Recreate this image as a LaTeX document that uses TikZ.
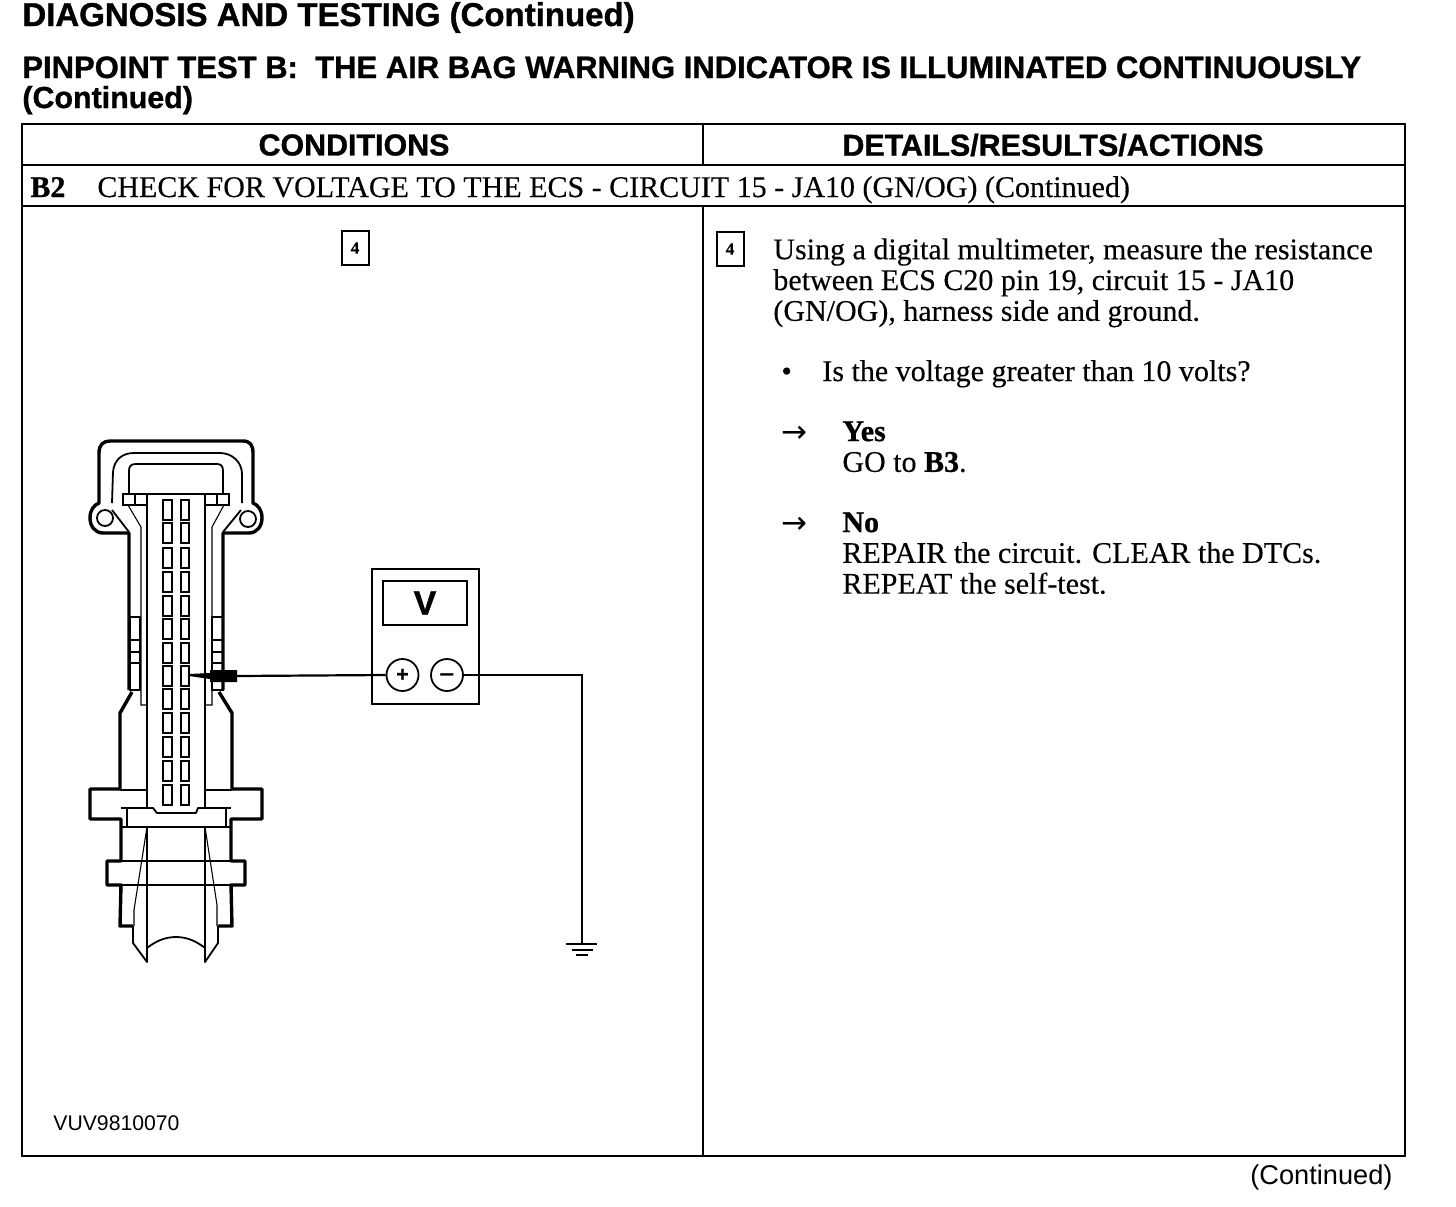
\documentclass[tikz,border=0pt]{standalone}
\usepackage{fontspec}
\setmainfont{Liberation Serif}[FakeBold=0.25,BoldFeatures={FakeBold=0.8}]
\setsansfont{Liberation Sans}[BoldFeatures={FakeBold=1.0}]
\newfontfamily\symfont{DejaVu Sans}
\usetikzlibrary{calc}
\tikzset{
  heavy/.style={line width=1.7pt,line join=round},
  medium/.style={line width=0.9pt,line join=round},
  thin line/.style={line width=0.55pt},
  frame/.style={line width=1pt},
  pin/.style={line width=0.9pt},
  wire/.style={line width=1.1pt},
  label/.style={inner sep=0pt,anchor=base west},
  body/.style={inner sep=0pt,anchor=north west,align=left,font=\fontsize{15}{15.4}\selectfont},
  title/.style={inner sep=0pt,anchor=base west,font=\sffamily\bfseries\fontsize{15.5}{15}\selectfont},
  head/.style={inner sep=0pt,font=\sffamily\bfseries\fontsize{15.2}{16}\selectfont},
  stepmark/.style={draw,line width=1pt,inner sep=0pt,minimum width=13.5pt,minimum height=17pt,font=\bfseries\fontsize{8.5}{9}\selectfont},
  jack/.style={draw,circle,line width=0.9pt,inner sep=0pt,minimum size=16pt,font=\sffamily\bfseries\fontsize{10.5}{10}\selectfont},
}
\begin{document}
\begin{tikzpicture}[x=0.5pt,y=-0.5pt]
\useasboundingbox (0,0) rectangle (1456,1206);
% titles
\node[title,font=\sffamily\bfseries\fontsize{16.5}{16}\selectfont] (t1) at (22,26) {DIAGNOSIS AND TESTING (Continued)};
\node[title] (t2) at (22,78) {PINPOINT TEST B:\ \ THE AIR BAG WARNING INDICATOR IS ILLUMINATED CONTINUOUSLY};
\node[title,font=\sffamily\bfseries\fontsize{15.2}{15}\selectfont] (t3) at (22,108) {(Continued)};
% table
\draw[frame] (22,124) rectangle (1405,1156);
\draw[frame] (22,165) -- (1405,165);
\draw[frame] (22,206) -- (1405,206);
\draw[frame] (703,124) -- (703,165);
\draw[frame] (703,206) -- (703,1156);
\node[head] (hc) at (354,145) {CONDITIONS};
\node[head] (hd) at (1053,145) {DETAILS/RESULTS/ACTIONS};
\node[label,font=\bfseries\fontsize{15}{15}\selectfont] (b2) at (30,197) {B2};
\node[label,font=\fontsize{15}{15}\selectfont] (b2t) at (97,197) {CHECK FOR VOLTAGE TO THE ECS - CIRCUIT 15 - JA10 (GN/OG) (Continued)};
\node[stepmark] (s4a) at (355,248) {4};
\node[stepmark] (s4b) at (730,249) {4};
% right column
\node[body] (p1) at (773,238) {Using a digital multimeter, measure the resistance\\between ECS C20 pin 19, circuit 15 - JA10\\(GN/OG), harness side and ground.};
\node[label,font=\fontsize{15}{15}\selectfont] (bul) at (781,381) {•};
\node[label,font=\fontsize{15}{15}\selectfont] (p2) at (822,381) {Is the voltage greater than 10 volts?};
\node[label,font=\symfont\fontsize{15.5}{15}\selectfont] (a1) at (781,442) {→};
\node[body] (p3) at (842,421) {\textbf{Yes}\\GO to \textbf{B3}.};
\node[label,font=\symfont\fontsize{15.5}{15}\selectfont] (a2) at (781,533) {→};
\node[body] (p4) at (842,512) {\textbf{No}\\REPAIR the circuit. CLEAR the DTCs.\\REPEAT the self-test.};
% footers
\node[label,font=\sffamily\fontsize{10.6}{11}\selectfont] (code) at (53,1130) {VUV9810070};
\node[label,font=\sffamily\fontsize{13.6}{14}\selectfont] (cont) at (1250,1184) {(Continued)};
% connector outline
\draw[heavy] (129,690) -- (129,533) -- (103,533) .. controls (95,533) and (90,526) .. (90,518) .. controls (90,510) and (94,505) .. (99,503)
  -- (99,453) .. controls (99,445) and (103,441) .. (110,441) -- (243,441) .. controls (250,441) and (253,445) .. (253,453) -- (253,503)
  .. controls (258,505) and (262,510) .. (262,518) .. controls (262,526) and (257,533) .. (249,533) -- (223,533) -- (223,690);
\draw[medium] (112,503) -- (113,472) .. controls (114,460) and (122,453) .. (134,453) -- (220,453) .. controls (232,453) and (242,462) .. (242,474) -- (242,503);
\draw[medium] (129,494) -- (129,471) .. controls (129,466) and (131,464) .. (136,464) -- (217,464) .. controls (221,464) and (223,466) .. (223,471) -- (223,494);
\draw[medium] (112,510) -- (129,532);
\draw[medium] (241,510) -- (223,532);
\draw[medium] (105,518) circle[radius=8];
\draw[medium] (248,519) circle[radius=8];
\draw[thin line] (123,494) rectangle (147,505) (135,494) -- (135,505);
\draw[thin line] (205,494) rectangle (229,505) (217,494) -- (217,505);
\draw[medium] (129,494) -- (223,494);
\draw[thin line] (128,505) -- (141,527) -- (141,705) -- (147,705);
\draw[thin line] (224,505) -- (212,527) -- (212,705) -- (205,705);
% side tabs
\foreach \y/\h in {617/23,640/12,652/11,663/27}{
  \draw[thin line] (130,\y) rectangle (140,\y+\h);
  \draw[thin line] (212,\y) rectangle (223,\y+\h);
}
% lower body
\draw[heavy] (132,692) -- (120,713) -- (120,789) -- (90,789) -- (90,819) -- (121,819) -- (121,861) -- (107,861) -- (107,885) -- (121,885) -- (120,926) -- (133,926);
\draw[heavy] (219,692) -- (232,713) -- (232,789) -- (262,789) -- (262,819) -- (231,819) -- (231,861) -- (245,861) -- (245,885) -- (231,885) -- (232,926) -- (218,926);
\draw[medium] (133,926) -- (133,943) -- (147,962) -- (147,948) .. controls (156,941) and (165,937) .. (176,937) .. controls (187,937) and (196,941) .. (205,948) -- (205,962) -- (218,943) -- (218,926);
\draw[medium] (147,493) -- (147,808) -- (153,808) -- (157,813) -- (196,813) -- (198,808) -- (205,808) -- (205,493);
\draw[thin line] (120,790) -- (147,790) (205,790) -- (232,790);
\draw[medium] (121,808) -- (147,808) (205,808) -- (231,808);
\draw[thin line] (127,808) -- (127,827) (226,808) -- (226,827);
\draw[medium] (121,827) -- (231,827);
\draw[thin line] (147,827) -- (147,962) (205,827) -- (205,962);
\draw[medium] (121,861) -- (231,861) (121,885) -- (231,885);
\draw[thin line] (147,827) -- (134,910) -- (134,926) (205,827) -- (217,905) -- (217,926);
% pins
\foreach \y/\h in {500/20,523/20,548/20,572/20,596/20,619/20,643/20,666/20,689/20,713/20,737/20,761/20,785/20}{
  \draw[pin] (163,\y) rectangle (172,\y+\h);
  \draw[pin] (181,\y) rectangle (189,\y+\h);
}
% probe
\coordinate (tip) at (189,674);
\coordinate (probe) at (237,676);
\fill (tip) -- (210,673) -- (210,670) -- (237,670) -- (237,682) -- (210,682) -- (210,679) -- (189,676) -- cycle;
% meter
\node[draw,line width=1.3pt,inner sep=0pt,minimum width=53.5pt,minimum height=67.5pt] (meter) at (425.5,636.5) {};
\node[draw,line width=0.8pt,inner sep=0pt,minimum width=42pt,minimum height=22pt,font=\sffamily\bfseries\fontsize{17}{17}\selectfont] (disp) at (425,603) {V};
\node[jack,fill=white] (plus) at (402.5,675) {+};
\node[jack,fill=white] (minus) at (447,675) {\raisebox{-3.4pt}[0pt][0pt]{\symfont\bfseries −}};
\coordinate (gnd) at (582,944);
\draw[wire] (probe) -- (plus.west);
\draw[wire] (minus.east) -- (582,675) -- (gnd);
\draw[line width=1.3pt] (566,944) -- (597,944);
\draw[line width=1.3pt] (572,950) -- (593,950);
\draw[line width=1.3pt] (576,955) -- (588,955);
\end{tikzpicture}
\end{document}
